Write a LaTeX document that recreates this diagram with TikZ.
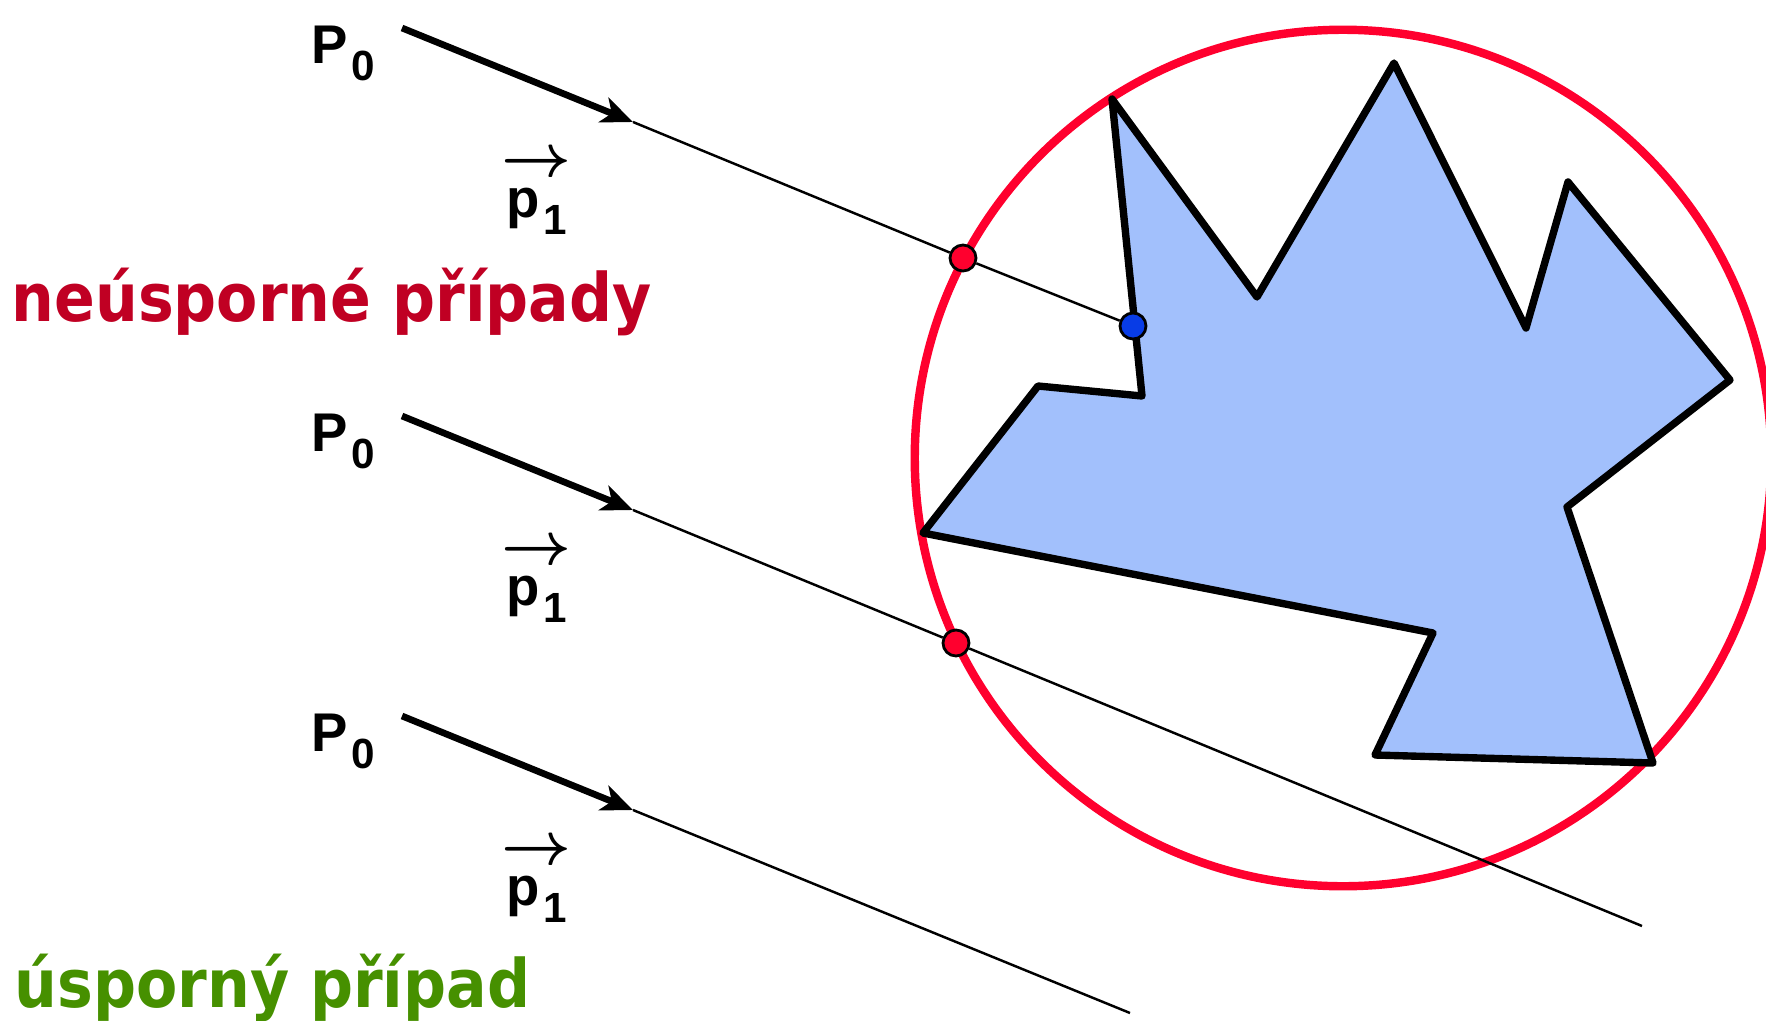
\documentclass[tikz,border=0pt]{standalone}
\usepackage{amsmath}
\usepackage{fontspec}
\setmainfont{Liberation Sans}
\newfontfamily\casefont{DejaVu Sans Condensed}
\usetikzlibrary{arrows.meta}
\definecolor{ringred}{RGB}{255,0,46}
\definecolor{polyfill}{RGB}{162,192,252}
\definecolor{dotblue}{RGB}{8,60,230}
\definecolor{textred}{RGB}{192,0,35}
\definecolor{textgreen}{RGB}{70,144,0}
\newcommand{\lowsub}[1]{\kern1pt\raisebox{-5pt}{\fontsize{12}{12}\selectfont #1}}
\newcommand{\vecover}[1]{\makebox[0pt][l]{\kern-1.3pt\raisebox{11.5pt}{\fontsize{18}{18}\selectfont$\boldsymbol{\rightarrow}$}}#1}
\tikzset{
  ring/.style={draw=ringred, line width=2.4pt},
  polyline/.style={draw=black, fill=polyfill, line width=2.1pt, line join=round},
  rayhead/.style={line width=1.9pt, -{Stealth[length=9pt, width=7.5pt, inset=2.5pt]}},
  raytail/.style={line width=0.7pt},
  hitdot/.style={circle, draw=black, line width=0.8pt, fill=ringred, minimum size=0.26cm, inner sep=0pt},
  edgedot/.style={hitdot, fill=dotblue},
  startlabel/.style={anchor=base west, inner sep=0pt, font=\fontsize{15.5}{18}\selectfont\bfseries},
  caselabel/.style={anchor=base west, inner sep=0pt, font=\casefont\fontsize{19}{22}\selectfont\bfseries},
}
\begin{document}
\begin{tikzpicture}[x=0.01cm, y=-0.01cm]
\useasboundingbox (0,0) rectangle (1766,1021);

\draw[ring] (1343,458) circle [radius=4.28cm];
\draw[polyline] (1112,99) -- (1142,396) -- (1038,386) -- (923,533) -- (1433,633) -- (1375,755)
  -- (1653,763) -- (1567,507) -- (1730,380) -- (1568,182) -- (1526,328) -- (1394,63) -- (1257,297) -- cycle;

\node[hitdot] (hit1) at (963,258) {};
\node[edgedot] (edge1) at (1133,326) {};
\node[hitdot] (hit2) at (956,643) {};

\coordinate (s1) at (402,28);  \coordinate (t1) at (633,122);
\coordinate (s2) at (402,416); \coordinate (t2) at (633,510); \coordinate (e2) at (1642,926);
\coordinate (s3) at (402,716); \coordinate (t3) at (633,810); \coordinate (e3) at (1130,1013);

\draw[rayhead] (s1) -- (t1);
\draw[raytail] (t1) -- (hit1) -- (edge1);
\draw[rayhead] (s2) -- (t2);
\draw[raytail] (t2) -- (hit2) -- (e2);
\draw[rayhead] (s3) -- (t3);
\draw[raytail] (t3) -- (e3);

\node[startlabel] (start1) at (311,63) {P\lowsub{0}};
\node[startlabel] (dir1) at (505.5,217) {\vecover{p}\lowsub{1}};
\node[startlabel] (start2) at (311,451) {P\lowsub{0}};
\node[startlabel] (dir2) at (505.5,605) {\vecover{p}\lowsub{1}};
\node[startlabel] (start3) at (311,751) {P\lowsub{0}};
\node[startlabel] (dir3) at (505.5,905) {\vecover{p}\lowsub{1}};

\node[caselabel, text=textred] (wasteful) at (11,321) {neúsporné případy};
\node[caselabel, text=textgreen] (thrifty) at (14,1007) {úsporný případ};
\end{tikzpicture}
\end{document}
